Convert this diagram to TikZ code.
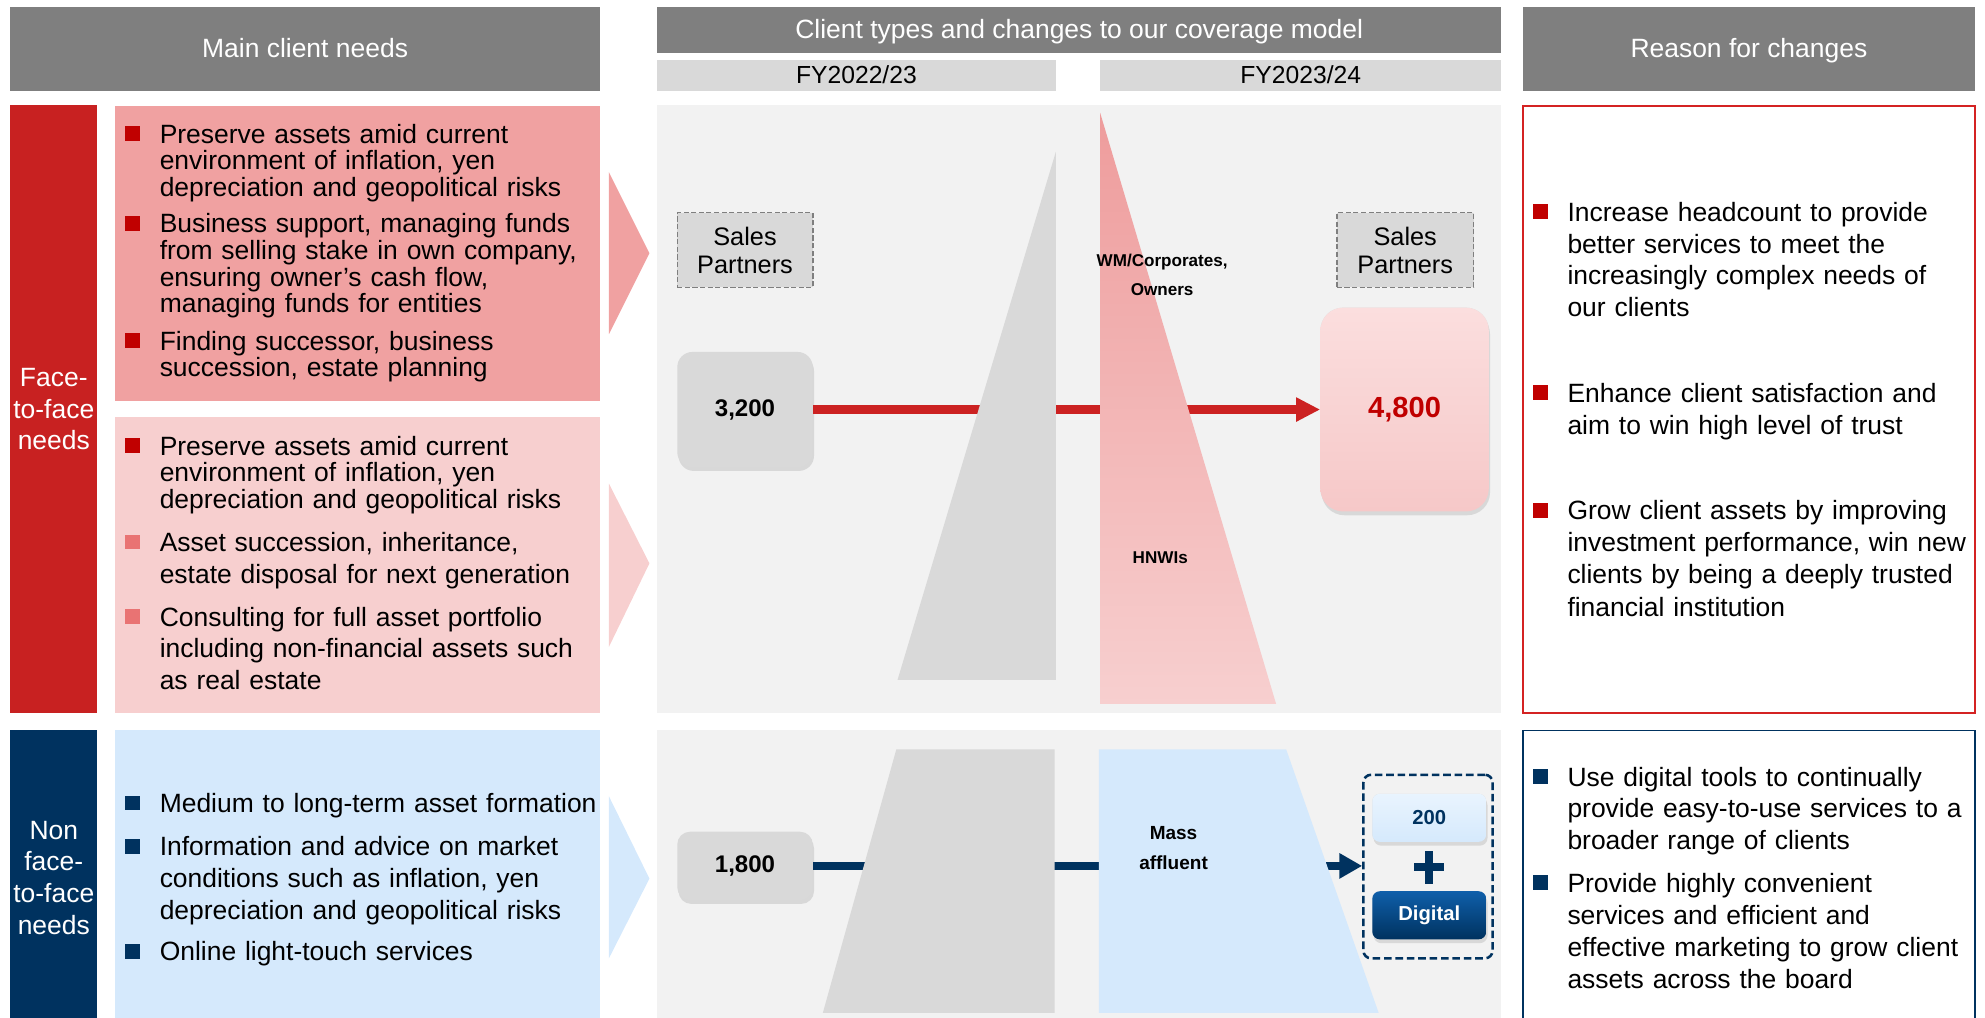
\documentclass[tikz,border=0pt]{standalone}
\usepackage{fontspec}
\setmainfont{Liberation Sans}
\usetikzlibrary{shadows,arrows.meta}

\definecolor{hdrgray}{RGB}{127,127,127}
\definecolor{subgray}{RGB}{217,217,217}
\definecolor{panelgray}{RGB}{242,242,242}
\definecolor{barred}{RGB}{200,33,33}
\definecolor{pinkA}{RGB}{240,161,161}
\definecolor{pinkB}{RGB}{247,207,207}
\definecolor{pinkT}{RGB}{238,156,156}
\definecolor{pinkM}{RGB}{244,190,190}
\definecolor{pinkBoxT}{RGB}{251,222,222}
\definecolor{pinkBoxB}{RGB}{246,200,200}
\definecolor{navy}{RGB}{0,50,95}
\definecolor{lblue}{RGB}{213,233,252}
\definecolor{lblueM}{RGB}{233,244,254}
\definecolor{bulred}{RGB}{192,0,0}
\definecolor{bulsalmon}{RGB}{233,115,115}
\definecolor{arrred}{RGB}{204,34,34}
\definecolor{boxred}{RGB}{212,35,35}
\definecolor{numred}{RGB}{192,0,0}
\definecolor{digtop}{RGB}{15,95,170}

\newcommand\mybul[6]{%
  \fill[#4] ({#2-27},{#3-13.5}) rectangle ++(11.7,11.7);
  \node[txt, font=\fontsize{20.9}{#5}\selectfont] (#1) at (#2,#3) {#6};}

\begin{document}
\begin{tikzpicture}[x=1pt,y=-1pt,
  hdr/.style={fill=hdrgray, text=white, inner sep=0, text height=15pt, text depth=1pt, font=\fontsize{20.9}{22}\selectfont},
  subhdr/.style={fill=subgray, inner sep=0, text height=14pt, text depth=1pt, font=\fontsize{19.5}{22}\selectfont},
  txt/.style={anchor=base west, inner sep=0, text width=420pt, align=left},
  sidetxt/.style={anchor=base, inner sep=0, text width=69pt, align=center, text=white, font=\fontsize{20.9}{25}\selectfont},
  salesbox/.style={draw=hdrgray, dash pattern=on 4pt off 2pt, line width=1.2pt, fill=subgray, inner sep=0, align=center, font=\fontsize{20}{22}\selectfont},
  numbox/.style={rounded corners=12pt, fill=subgray, inner sep=0, drop shadow={opacity=0.22, shadow xshift=1pt, shadow yshift=-3pt}, font=\bfseries\fontsize{19}{20}\selectfont},
  lbl/.style={anchor=base, inner sep=0, text width=140pt, align=center, font=\bfseries\fontsize{13.5}{23}\selectfont},
  conn/.style={line width=6.6pt}
]
\useasboundingbox (0,0) rectangle (1568,804);

% ---------- headers
\node[hdr, minimum width=466pt, minimum height=66pt] (hMain) at (241,38.5) {Main client needs};
\node[hdr, minimum width=667pt, minimum height=36.5pt] (hClient) at (852.5,23.75) {Client types and changes to our coverage model};
\node[subhdr, minimum width=315pt, minimum height=25pt] (fyA) at (676.5,59.5) {FY2022/23};
\node[subhdr, minimum width=317pt, minimum height=25pt] (fyB) at (1027.5,59.5) {FY2023/24};
\node[hdr, minimum width=357pt, minimum height=66pt] (hReason) at (1381.5,38.5) {Reason for changes};

% ---------- left column
\fill[barred] (8,83) rectangle (77,563);
\node[sidetxt] (tFace) at (42.5,305.4) {Face-\\to-face\\needs};
\fill[navy] (8,577) rectangle (77,806);
\node[sidetxt] (tNon) at (42.5,663) {Non\\face-\\to-face\\needs};

\fill[pinkA] (91,84) rectangle (474,316.5);
\fill[pinkB] (91,329) rectangle (474,563);
\fill[lblue] (91,577) rectangle (474,806);

\fill[pinkA] (481,136) -- (513,200) -- (481,264) -- cycle;
\fill[pinkB] (481,382) -- (513,445) -- (481,511) -- cycle;
\fill[lblue] (481,629) -- (513,694) -- (481,757) -- cycle;

\mybul{bA1}{126}{113}{bulred}{21}{Preserve assets amid current\\environment of inflation, yen\\depreciation and geopolitical risks}
\mybul{bA2}{126}{184}{bulred}{21}{Business support, managing funds\\from selling stake in own company,\\ensuring owner’s cash flow,\\managing funds for entities}
\mybul{bA3}{126}{276.5}{bulred}{21}{Finding successor, business\\succession, estate planning}

\mybul{bB1}{126}{359.5}{bulred}{21}{Preserve assets amid current\\environment of inflation, yen\\depreciation and geopolitical risks}
\mybul{bB2}{126}{435.8}{bulsalmon}{25}{Asset succession, inheritance,\\estate disposal for next generation}
\mybul{bB3}{126}{494.5}{bulsalmon}{25}{Consulting for full asset portfolio\\including non-financial assets such\\as real estate}

\mybul{bC1}{126}{642}{navy}{25}{Medium to long-term asset formation}
\mybul{bC2}{126}{676}{navy}{25}{Information and advice on market\\conditions such as inflation, yen\\depreciation and geopolitical risks}
\mybul{bC3}{126}{759}{navy}{25}{Online light-touch services}

% ---------- middle panels
\fill[panelgray] (519,83) rectangle (1186,563);
\fill[panelgray] (519,577) rectangle (1186,806);

\node[salesbox, minimum width=107pt, minimum height=59pt] (spA) at (588.5,197.5) {Sales\\Partners};
\node[salesbox, minimum width=108pt, minimum height=59pt] (spB) at (1110,197.5) {Sales\\Partners};

\node[numbox, minimum width=107pt, minimum height=91pt] (n3200) at (588.5,323.5) {3,200};
\node[numbox, rounded corners=18pt, top color=pinkBoxT, bottom color=pinkBoxB, minimum width=133pt, minimum height=161pt, text=numred, font=\bfseries\fontsize{23}{24}\selectfont] (n4800) at (1109.5,323.5) {4,800};
\node[numbox, rounded corners=10pt, minimum width=107pt, minimum height=54pt] (n1800) at (588.5,684) {1,800};

\node[draw=navy, dash pattern=on 6pt off 3pt, line width=2pt, rounded corners=6pt, minimum width=102pt, minimum height=145pt, inner sep=0] (dashbox) at (1128,684.5) {};
\node[numbox, rounded corners=6pt, top color=lblueM, bottom color=lblue, minimum width=90pt, minimum height=38pt, text=navy, font=\bfseries\fontsize{16}{18}\selectfont] (n200) at (1129,646) {200};
\node[numbox, rounded corners=6pt, top color=digtop, bottom color=navy, minimum width=90pt, minimum height=38pt, text=white, font=\bfseries\fontsize{16}{18}\selectfont] (nDigital) at (1129,723) {Digital};
\fill[navy] (1126,672) rectangle (1132,698);
\fill[navy] (1117,682) rectangle (1141,688);

% ---------- connectors (behind the funnels)
\draw[conn, arrred, -{Triangle[width=18pt,length=19pt]}] (n3200.east) -- (n4800.west);
\draw[conn, line width=6.3pt, navy, -{Triangle[width=19pt,length=18pt]}] (n1800.east) -- (n1800.east -| dashbox.west);

% ---------- funnels
\fill[subgray] (834,120) -- (834,537) -- (709,537) -- cycle;
\shade[top color=pinkT, middle color=pinkM, bottom color=pinkB] (869,89) -- (1008,556) -- (869,556) -- cycle;
\fill[subgray] (708,592) -- (833,592) -- (833,800) -- (650,800) -- cycle;
\shade[top color=lblue, middle color=lblueM, bottom color=lblue] (868,592) -- (1016,592) -- (1089,800) -- (868,800) -- cycle;

\node[lbl] (lWM) at (918,210.6) {WM/Corporates,\\Owners};
\node[lbl] (lHNWI) at (916.5,445.5) {HNWIs};
\node[lbl, font=\bfseries\fontsize{15}{23}\selectfont] (lMass) at (927,663.5) {Mass\\affluent};

% ---------- right column
\draw[boxred, line width=1.5pt] (1203,84) rectangle (1560,563);
\draw[navy, line width=1.5pt] (1203,577) rectangle (1560,812);

\mybul{rA1}{1238}{175}{bulred}{25}{Increase headcount to provide\\better services to meet the\\increasingly complex needs of\\our clients}
\mybul{rA2}{1238}{318}{bulred}{25}{Enhance client satisfaction and\\aim to win high level of trust}
\mybul{rA3}{1238}{410.7}{bulred}{25.3}{Grow client assets by improving\\investment performance, win new\\clients by being a deeply trusted\\financial institution}
\mybul{rB1}{1238}{621}{navy}{25}{Use digital tools to continually\\provide easy-to-use services to a\\broader range of clients}
\mybul{rB2}{1238}{704.6}{navy}{25.3}{Provide highly convenient\\services and efficient and\\effective marketing to grow client\\assets across the board}
\end{tikzpicture}
\end{document}
